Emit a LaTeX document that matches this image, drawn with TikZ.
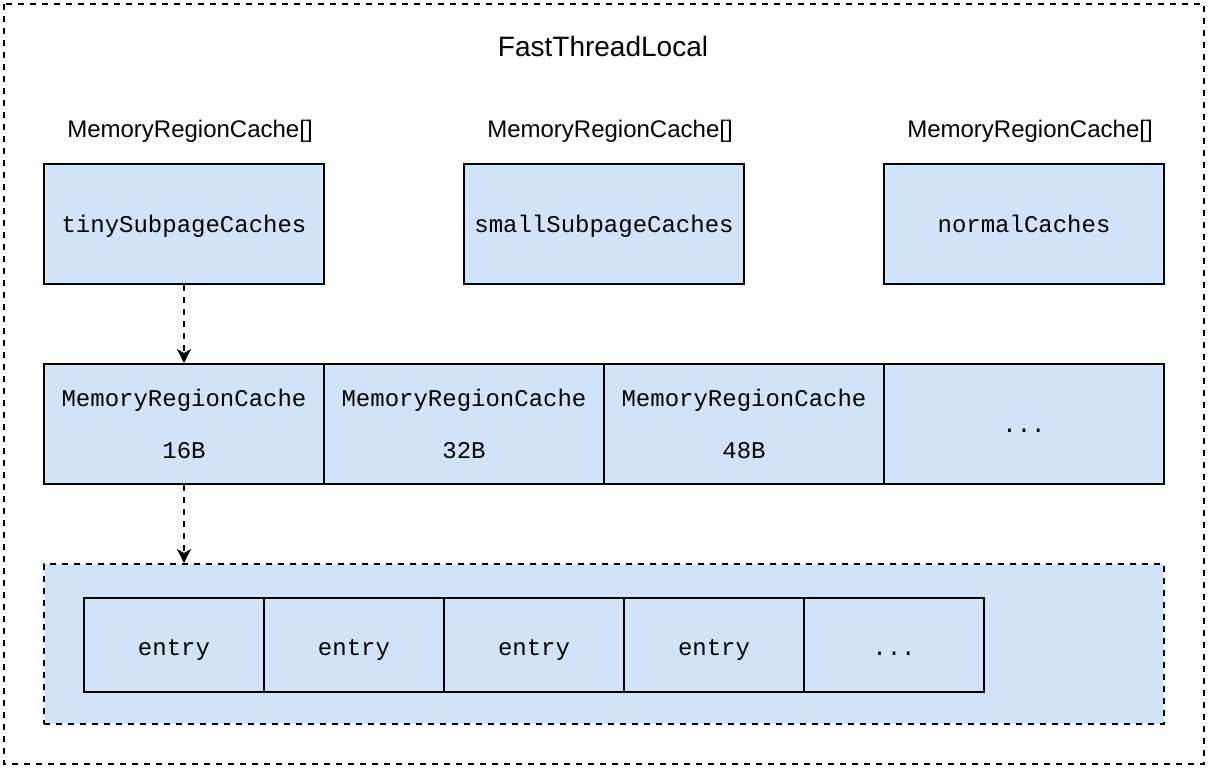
\documentclass[tikz,border=0pt]{standalone}
\usepackage{fontspec}
\setmainfont{Liberation Sans}
\setmonofont{Liberation Mono}
\usetikzlibrary{arrows.meta}
\definecolor{cellblue}{RGB}{208,227,249}

\begin{document}
\begin{tikzpicture}[x=0.5pt,y=-0.5pt,
		cellbase/.style={draw,fill=cellblue,line width=1pt,minimum width=140pt,minimum height=60pt,inner sep=0pt,align=center,font=\fontsize{12}{14.4}\selectfont\ttfamily},
		cell/.style={cellbase,text height=10pt,text depth=1.4pt},
		entrycell/.style={cellbase,minimum width=90pt,minimum height=47pt,text height=11pt,text depth=1pt},
		lbl/.style={font=\fontsize{12}{14}\selectfont},
		frame/.style={draw,line width=1pt,dash pattern=on 3pt off 3pt},
		link/.style={-{Stealth[length=7pt,width=7pt,inset=2pt]},line width=1pt,dash pattern=on 3pt off 3pt}]

		\useasboundingbox (0,0) rectangle (1208,768);
		\draw[frame] (4,4) rectangle (1204,764);
		\node[font=\fontsize{14}{16}\selectfont] (title) at (603,46) {FastThreadLocal};

		\node[lbl] (lbltiny) at (190,131) {MemoryRegionCache[]};
		\node[lbl] (lblsmall) at (610,131) {MemoryRegionCache[]};
		\node[lbl] (lblnormal) at (1030,131) {MemoryRegionCache[]};

		\node[cell] (tiny) at (184,224) {tinySubpageCaches};
		\node[cell] (small) at (604,224) {smallSubpageCaches};
		\node[cell] (normal) at (1024,224) {normalCaches};

		\node[cellbase] (c16) at (184,424) {MemoryRegionCache\\[11.5pt]16B};
		\node[cellbase] (c32) at (464,424) {MemoryRegionCache\\[11.5pt]32B};
		\node[cellbase] (c48) at (744,424) {MemoryRegionCache\\[11.5pt]48B};
		\node[cell] (cmore) at (1024,424) {...};

		\node[frame,fill=cellblue,minimum width=560pt,minimum height=80pt,inner sep=0pt] (queue) at (604,644) {};
		\node[entrycell] (e1) at (174,645) {entry};
		\node[entrycell] (e2) at (354,645) {entry};
		\node[entrycell] (e3) at (534,645) {entry};
		\node[entrycell] (e4) at (714,645) {entry};
		\node[entrycell] (emore) at (894,645) {...};

		\draw[link] (tiny.south) -- (c16.north);
		\draw[link] (c16.south) -- (c16.south |- queue.north);
	\end{tikzpicture}
\end{document}
